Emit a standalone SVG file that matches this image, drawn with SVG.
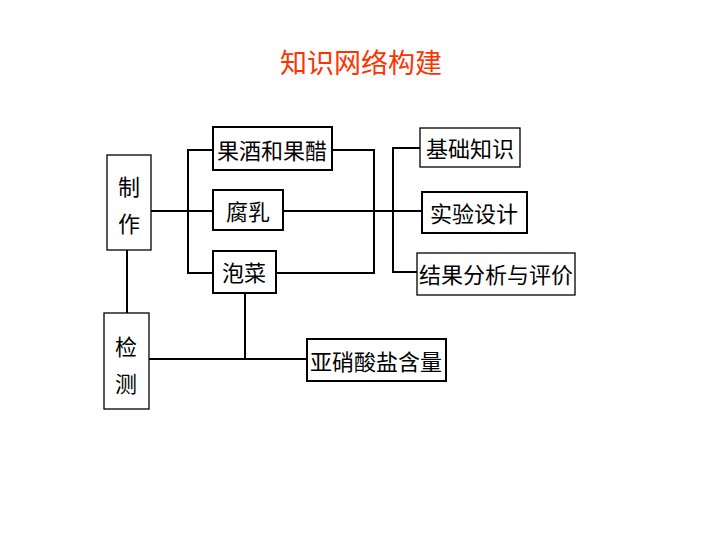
<svg xmlns="http://www.w3.org/2000/svg" width="720" height="540" viewBox="0 0 720 540">
<style>
.box{fill:#fff;stroke:#000;stroke-width:2}
.thin{stroke-width:1.3}
.t{font-family:"Noto Sans CJK SC","Noto Sans",sans-serif;font-size:22px;fill:#000;text-anchor:middle;dominant-baseline:central}
.ln{stroke:#000;stroke-width:2;fill:none}
</style>
<rect width="720" height="540" fill="#fff"/>
<text x="361" y="61" font-family="'Noto Sans CJK SC',sans-serif" font-size="27" fill="#FF3300" text-anchor="middle" dominant-baseline="central">知识网络构建</text>
<g id="connectors">
<path class="ln" d="M127 250V313" stroke-width="1"/>
<path class="ln" d="M151 211H213"/>
<path class="ln" d="M213 150H188V273H213"/>
<path class="ln" d="M332 150H374V273H276"/>
<path class="ln" d="M283 211H422"/>
<path class="ln" d="M420 148H393V272H417"/>
<path class="ln" d="M245 293V359"/>
<path class="ln" d="M149 359H307"/>
</g>
<g id="zhizuo"><rect class="box thin" x="107" y="155" width="44" height="95"/><text class="t" x="129" y="185">制</text><text class="t" x="129" y="222">作</text></g>
<g id="jiance"><rect class="box thin" x="104" y="313" width="45" height="96"/><text class="t" x="126" y="345">检</text><text class="t" x="126" y="382">测</text></g>
<g id="guojiu"><rect class="box" x="213" y="127" width="119" height="43"/><text class="t" x="272" y="149">果酒和果醋</text></g>
<g id="furu"><rect class="box" x="213" y="190" width="70" height="40"/><text class="t" x="248" y="210">腐乳</text></g>
<g id="paocai"><rect class="box" x="213" y="251" width="63" height="42"/><text class="t" x="244" y="271">泡菜</text></g>
<g id="jichu"><rect class="box thin" x="420" y="128" width="100" height="39"/><text class="t" x="470" y="147">基础知识</text></g>
<g id="shiyan"><rect class="box" x="422" y="192" width="105" height="41"/><text class="t" x="474" y="212">实验设计</text></g>
<g id="jieguo"><rect class="box thin" x="417" y="253" width="158" height="42"/><text class="t" x="496" y="273">结果分析与评价</text></g>
<g id="yaxiao"><rect class="box" x="307" y="339" width="139" height="42"/><text class="t" x="376" y="360">亚硝酸盐含量</text></g>
</svg>
